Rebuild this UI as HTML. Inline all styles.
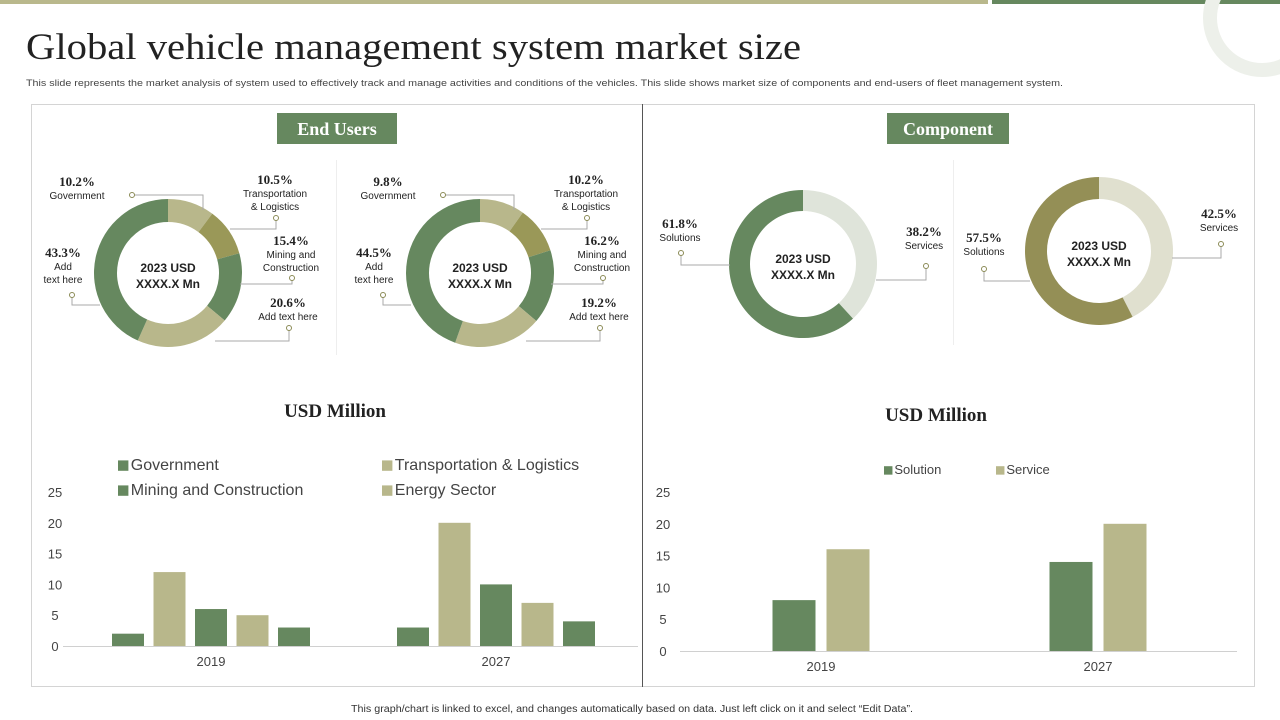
<!DOCTYPE html>
<html><head><meta charset="utf-8">
<style>
body{margin:0;width:1280px;height:720px;overflow:hidden;background:#fff;font-family:"Liberation Sans",sans-serif}
svg{position:absolute;left:0;top:0}
.serif{font-family:"Liberation Serif",serif}
</style></head>
<body>
<svg id="s" width="1280" height="720">
<rect x="0" y="0" width="988" height="4" fill="#b9b88c"/>
<rect x="992" y="0" width="288" height="4" fill="#66885f"/>
<circle cx="1262" cy="18" r="52" fill="none" stroke="#edf0ea" stroke-width="14"/>
<text x="26" y="59" class="serif" font-size="37" fill="#222" textLength="775" lengthAdjust="spacingAndGlyphs">Global vehicle management system market size</text>
<text x="26" y="86" font-size="9.5" fill="#444" textLength="1037" lengthAdjust="spacingAndGlyphs">This slide represents the market analysis of system used to effectively track and manage activities and conditions of the vehicles. This slide shows market size of components and end-users of fleet management system.</text>
<rect x="31.5" y="104.5" width="1223" height="582" fill="none" stroke="#d4d4d4"/>
<line x1="642.5" y1="104" x2="642.5" y2="687" stroke="#555"/>
<line x1="336.5" y1="160" x2="336.5" y2="355" stroke="#eee"/>
<line x1="953.5" y1="160" x2="953.5" y2="345" stroke="#eee"/>
<rect x="277" y="113" width="120" height="31" fill="#66885f"/>
<text x="337" y="135" text-anchor="middle" class="serif" font-weight="bold" font-size="18" fill="#fff">End Users</text>
<rect x="887" y="113" width="122" height="31" fill="#66885f"/>
<text x="948" y="135" text-anchor="middle" class="serif" font-weight="bold" font-size="18" fill="#fff">Component</text>
<text x="335" y="417" text-anchor="middle" class="serif" font-weight="bold" font-size="19" fill="#222">USD Million</text>
<text x="936" y="421" text-anchor="middle" class="serif" font-weight="bold" font-size="19" fill="#222">USD Million</text>
<g id="g"></g>
<text x="632" y="712" text-anchor="middle" font-size="10" fill="#333" textLength="562" lengthAdjust="spacingAndGlyphs">This graph/chart is linked to excel, and changes automatically based on data. Just left click on it and select “Edit Data”.</text>
</svg>
<script>
// ---- donut data ----
const donut1Values=[10.2,10.5,15.4,20.6,43.3];
const donut2Values=[9.8,10.2,16.2,19.2,44.5];
const donut3Values=[38.2,61.8];
const donut4Values=[42.5,57.5];
// ---- left bar chart ----
const leftCategories=['2019','2027'];
const leftSeries=[[2,3],[12,20],[6,10],[5,7],[3,4]];
const leftTicks=[0,5,10,15,20,25];
// ---- right bar chart ----
const rightCategories=['2019','2027'];
const rightSeries=[[8,14],[16,20]];
const rightTicks=[0,5,10,15,20,25];

const NS='http://www.w3.org/2000/svg';
const g=document.getElementById('g');
function el(t,a,txt){const e=document.createElementNS(NS,t);for(const k in a)e.setAttribute(k,a[k]);if(txt!=null)e.textContent=txt;g.appendChild(e);return e;}
const DG='#66885f',LT='#b8b78b',OL='#9a9858';
function donut(cx,cy,ro,ri,vals,cols,name){
  const tot=vals.reduce((a,b)=>a+b,0);let a0=-Math.PI/2;
  vals.forEach((v,i)=>{
    const a1=a0+v/tot*2*Math.PI,lg=(a1-a0)>Math.PI?1:0;
    const p=(r,a)=>[cx+r*Math.cos(a),cy+r*Math.sin(a)];
    const [x1,y1]=p(ro,a0),[x2,y2]=p(ro,a1),[x3,y3]=p(ri,a1),[x4,y4]=p(ri,a0);
    const e=el('path',{d:`M${x1},${y1}A${ro},${ro} 0 ${lg} 1 ${x2},${y2}L${x3},${y3}A${ri},${ri} 0 ${lg} 0 ${x4},${y4}Z`,fill:cols[i]});
    
    
    a0=a1;
  });
  const t1=el('text',{x:cx,y:cy-1,'text-anchor':'middle','font-size':12,'font-weight':'bold',fill:'#222'},'2023 USD');
  
  
  el('text',{x:cx,y:cy+15,'text-anchor':'middle','font-size':12,'font-weight':'bold',fill:'#222'},'XXXX.X Mn');
}
donut(168,273,74,51,donut1Values,[LT,OL,DG,LT,DG],'donut-2019');
donut(480,273,74,51,donut2Values,[LT,OL,DG,LT,DG],'donut-2027');
donut(803,264,74,53,donut3Values,['#dfe4da',DG],'donut-component-1');
donut(1099,251,74,52,donut4Values,['#e0e0cf','#948f56'],'donut-component-2');

function label(x,y,pct,lines,anchor){
  el('text',{x,y,'text-anchor':anchor,class:'serif','font-weight':'bold','font-size':13,fill:'#222'},pct);
  lines.forEach((l,i)=>el('text',{x,y:y+13+i*13,'text-anchor':anchor,'font-size':10,fill:'#222'},l));
}
function leader(pts){el('polyline',{points:pts.map(p=>p.join(',')).join(' '),fill:'none',stroke:'#aaa','stroke-width':1});
  const p=pts[0];el('circle',{cx:p[0],cy:p[1],r:2.5,fill:'#fff',stroke:'#8a8a55'});}
function endLabels(dx,v){
  label(77+dx,186,v[0]+'%',['Government'],'middle');
  label(275+dx,184,v[1]+'%',['Transportation','& Logistics'],'middle');
  label(291+dx,245,v[2]+'%',['Mining and','Construction'],'middle');
  label(288+dx,307,v[3]+'%',['Add text here'],'middle');
  label(63+dx,257,v[4]+'%',['Add','text here'],'middle');
  leader([[132+dx,195],[203+dx,195],[203+dx,210]]);
  leader([[276+dx,218],[276+dx,229],[230+dx,229]]);
  leader([[292+dx,278],[292+dx,284],[240+dx,284]]);
  leader([[289+dx,328],[289+dx,341],[215+dx,341]]);
  leader([[72+dx,295],[72+dx,305],[100+dx,305]]);
}
endLabels(0,donut1Values);
endLabels(311,donut2Values);
label(680,228,donut3Values[1]+'%',['Solutions'],'middle');
label(924,236,donut3Values[0]+'%',['Services'],'middle');
leader([[681,253],[681,265],[730,265]]);leader([[926,266],[926,280],[876,280]]);
label(984,242,donut4Values[1]+'%',['Solutions'],'middle');
label(1219,218,donut4Values[0]+'%',['Services'],'middle');
leader([[984,269],[984,281],[1030,281]]);leader([[1221,244],[1221,258],[1172,258]]);

// bar charts
function bars(o){
  const y=v=>o.y0-v*(o.y0-o.y25)/25;
  o.ticks.forEach(t=>{const e=el('text',{x:o.tx,y:y(t)+5,'text-anchor':'middle','font-size':13,fill:'#444'},t);
    
    });
  el('line',{x1:o.ax0,x2:o.ax1,y1:y(0)+.5,y2:y(0)+.5,stroke:'#d0d0d0'});
  o.cats.forEach((c,ci)=>{
    const cx=o.cx[ci];
    const t=el('text',{x:cx,y:y(0)+20,'text-anchor':'middle','font-size':13,fill:'#444'},c);
    
    
    const n=o.series.length;
    o.series.forEach((s,si)=>{
      const bx=cx+(si-(n-1)/2)*o.step-o.bw/2;
      const r=el('rect',{x:bx,y:y(s[ci]),width:o.bw,height:y(0)-y(s[ci]),fill:o.cols[si]});
      
      
    });
  });
}
bars({name:'left-chart',y0:646,y25:492,tx:55,ax0:63,ax1:638,cx:[211,496],cats:leftCategories,series:leftSeries,ticks:leftTicks,step:41.5,bw:32,cols:[DG,LT,DG,LT,DG]});
bars({name:'right-chart',y0:651,y25:492,tx:663,ax0:680,ax1:1237,cx:[821,1098],cats:rightCategories,series:rightSeries,ticks:rightTicks,step:54,bw:43,cols:[DG,LT]});

function legend(x,y,c,t,fs,name){const r=el('rect',{x,y:y-fs*0.6,width:fs*0.65,height:fs*0.65,fill:c});
  
  
  el('text',{x:x+fs*0.8,y,'font-size':fs,fill:'#444'},t);}
legend(118,470,DG,'Government',16,'legend-government');
legend(382,470,LT,'Transportation & Logistics',16,'legend-transport');
legend(118,495,DG,'Mining and Construction',16,'legend-mining');
legend(382,495,LT,'Energy Sector',16,'legend-energy');
legend(884,474,DG,'Solution',13,'legend-solution');
legend(996,474,LT,'Service',13,'legend-service');
</script>
</body></html>
